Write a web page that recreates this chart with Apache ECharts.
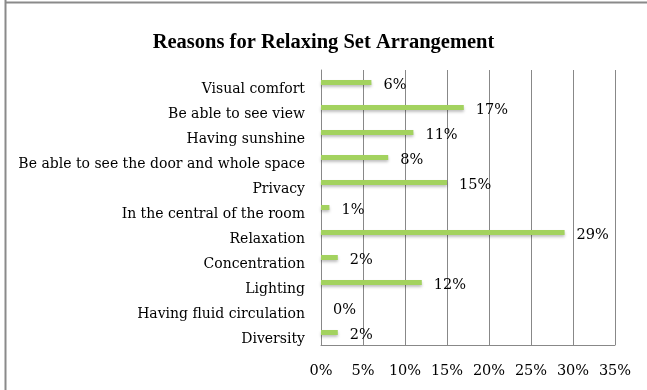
<!DOCTYPE html>
<html><head><meta charset="utf-8">
<script src="https://cdn.jsdelivr.net/npm/echarts@6/dist/echarts.min.js"></script>
<style>html,body{margin:0;padding:0;background:#fff}#c{width:647px;height:390px}</style>
</head><body><div id="c"></div>
<script>
const categories = ["Visual comfort","Be able to see view","Having sunshine","Be able to see the door and whole space","Privacy","In the central of the room","Relaxation","Concentration","Lighting","Having fluid circulation","Diversity"];
const values = [6,17,11,8,15,1,29,2,12,0,2];
const titleText = "Reasons for Relaxing Set Arrangement";
const xMin = 0, xMax = 35, xStep = 5;
const font = "'DejaVu Serif', serif";
const titleFont = "'Liberation Serif', serif";
const chart = echarts.init(document.getElementById('c'));
chart.setOption({
  animation:false,
  backgroundColor:'#fff',
  title:{text:titleText,left:'center',top:27,textStyle:{fontFamily:titleFont,fontWeight:'bold',fontSize:20.5,color:'#000'}},
  graphic:[
    {type:'line',shape:{x1:5.5,y1:0,x2:5.5,y2:390},style:{stroke:'#8a8a8a',lineWidth:2}},
    {type:'line',shape:{x1:5,y1:2.5,x2:647,y2:2.5},style:{stroke:'#8a8a8a',lineWidth:2}}
  ],
  grid:{left:321,right:32,top:70,bottom:45,containLabel:false},
  xAxis:{type:'value',min:xMin,max:xMax,interval:xStep,
    axisLine:{show:true,lineStyle:{color:'#888',width:1}},
    axisTick:{show:false},
    splitLine:{show:true,lineStyle:{color:'#888',width:1}},
    axisLabel:{margin:19,fontFamily:font,fontSize:14.5,color:'#000',formatter:v=>v+'%'}},
  yAxis:{type:'category',inverse:true,data:categories,
    axisLine:{show:true,lineStyle:{color:'#888',width:1}},
    axisTick:{show:false},
    axisLabel:{margin:16,fontFamily:font,fontSize:14,color:'#000',verticalAlign:'top'}},
  series:[{type:'bar',data:values,barWidth:5,
    itemStyle:{color:'#a3d25f',shadowColor:'rgba(0,0,0,0.25)',shadowBlur:3,shadowOffsetY:2},
    label:{show:true,position:'right',distance:12,offset:[0,3],formatter:p=>p.value+'%',fontFamily:font,fontSize:14.5,color:'#000'}}]
});
</script></body></html>
